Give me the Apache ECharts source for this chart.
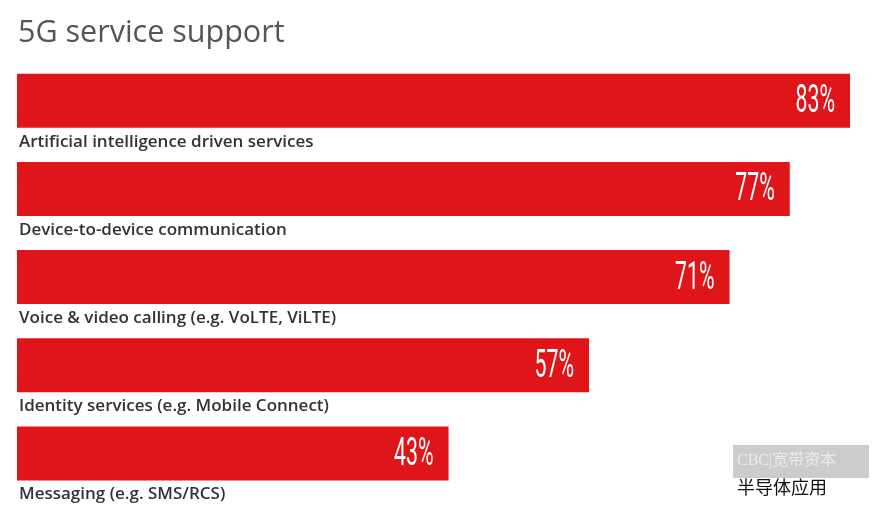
<!DOCTYPE html>
<html>
<head>
<meta charset="utf-8">
<title>5G service support</title>
<script src="https://cdn.jsdelivr.net/npm/echarts@6/dist/echarts.min.js"></script>
<style>
  html, body { margin: 0; padding: 0; background: #fff; }
  #chart { width: 885px; height: 523px; }
</style>
</head>
<body>
<div id="chart"></div>
<script>
// data (top to bottom)
const categories = [
  'Artificial intelligence driven services',
  'Device-to-device communication',
  'Voice & video calling (e.g. VoLTE, ViLTE)',
  'Identity services (e.g. Mobile Connect)',
  'Messaging (e.g. SMS/RCS)'
]
const values = [83, 77, 71, 57, 43]

const chart = echarts.init(document.getElementById('chart'))

// percentage text drawn squeezed, like the condensed face in the original
function renderValueLabel(params, api) {
  const p = api.coord([api.value(0), api.value(1)])
  return {
    type: 'text',
    x: p[0] - 15,
    y: p[1] + 2,
    scaleX: 0.56,
    silent: true,
    style: {
      text: api.value(0) + '%',
      x: 0,
      y: 0,
      align: 'right',
      verticalAlign: 'middle',
      fill: '#ffffff',
      font: 'normal 38px Roboto, sans-serif'
    }
  }
}

const option = {
  backgroundColor: '#ffffff',
  animation: false,
  title: {
    text: '5G service support',
    left: 13,
    top: 13,
    textStyle: {
      fontFamily: 'Open Sans',
      fontWeight: 'normal',
      fontSize: 30.5,
      color: '#555555'
    }
  },
  grid: { left: 17, right: 35, top: 56.6, bottom: 25.4 },
  xAxis: {
    type: 'value',
    min: 0,
    max: 83,
    show: false
  },
  yAxis: {
    type: 'category',
    data: categories,
    inverse: true,
    show: false
  },
  series: [
    {
      type: 'bar',
      data: values,
      barWidth: 54,
      itemStyle: { color: '#df1519' }
    },
    {
      // transparent overlay used only for the category name under each bar
      type: 'bar',
      data: values,
      barWidth: 54,
      barGap: '-100%',
      silent: true,
      itemStyle: { color: 'rgba(0,0,0,0)' },
      label: {
        show: true,
        position: [2, 68],
        align: 'left',
        verticalAlign: 'middle',
        formatter: '{b}',
        color: '#333333',
        fontFamily: 'Open Sans',
        fontWeight: 600,
        fontSize: 17
      }
    },
    {
      type: 'custom',
      data: values.map((v, i) => [v, i]),
      renderItem: renderValueLabel,
      z: 10
    }
  ],
  graphic: [
    {
      type: 'rect',
      left: 733,
      top: 445,
      shape: { width: 136, height: 33 },
      style: { fill: '#cccccc' }
    },
    {
      type: 'text',
      left: 737,
      top: 453,
      style: {
        text: 'CBC|宽带资本',
        fill: '#ececec',
        font: '16px "Liberation Serif", "Noto Sans CJK SC", serif'
      }
    },
    {
      type: 'text',
      left: 737,
      top: 478,
      style: {
        text: '半导体应用',
        fill: '#111111',
        font: '18px "Noto Sans CJK SC", sans-serif'
      }
    }
  ]
}

chart.setOption(option)
window.addEventListener('resize', () => chart.resize())
</script>
</body>
</html>
